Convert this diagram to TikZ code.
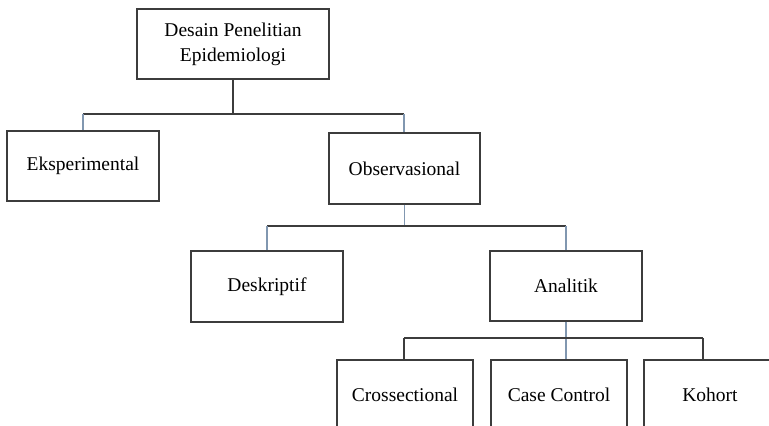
\documentclass[tikz,border=0pt]{standalone}
\usepackage{fontspec}
\setmainfont{Liberation Serif}
\definecolor{boxline}{HTML}{3C3C3C}
\definecolor{drop}{HTML}{8197B0}
\begin{document}
\begin{tikzpicture}[x=1pt,y=-1pt,
  box/.style={draw=boxline,line width=1.2pt,fill=white,inner sep=0pt,align=center,
    font=\fontsize{19.5}{25}\selectfont},
  link/.style={draw=boxline,line width=1.1pt},
  bluelink/.style={draw=drop,line width=1.1pt}]
\useasboundingbox (0,0) rectangle (769,426);
\clip (0,0) rectangle (769,426);

% boxes
\node[box,minimum width=192pt,minimum height=70pt] (top)  at (233,44)  {Desain Penelitian\\Epidemiologi};
\node[box,minimum width=152pt,minimum height=70pt] (eks)  at (83,166)  {Eksperimental};
\node[box,minimum width=151pt,minimum height=71pt] (obs)  at (404.5,168.5) {Observasional};
\node[box,minimum width=152pt,minimum height=71pt] (desk) at (267,286.5) {Deskriptif};
\node[box,minimum width=152pt,minimum height=70pt] (anal) at (566,286) {Analitik};
\node[box,minimum width=136pt,minimum height=70pt] (cross) at (405,395) {Crossectional};
\node[box,minimum width=136pt,minimum height=70pt] (case) at (559,395) {Case Control};
\node[box,minimum width=132pt,minimum height=70pt] (koh)  at (710,395) {Kohort};

% level 1
\coordinate (r1) at (0,114);
\coordinate (e1) at (83,114);
\coordinate (o1) at (404,114);
\draw[link] (top.south) -- (top.south |- r1);
\draw[link] (e1) -- (o1);
\draw[bluelink] (e1) -- (e1 |- eks.north);
\draw[bluelink] (o1) -- (o1 |- obs.north);

% level 2
\coordinate (d2) at (267,226);
\coordinate (a2) at (566,226);
\draw[bluelink] (obs.south) -- (obs.south |- d2);
\draw[link] (d2) -- (a2);
\draw[bluelink] (d2) -- (d2 |- desk.north);
\draw[bluelink] (a2) -- (a2 |- anal.north);

% level 3
\coordinate (c3) at (404,338);
\coordinate (k3) at (703,338);
\draw[bluelink] (anal.south) -- (anal.south |- case.north);
\draw[link] (c3) -- (k3);
\draw[link] (c3) -- (c3 |- cross.north);
\draw[link] (k3) -- (k3 |- koh.north);
\end{tikzpicture}
\end{document}
